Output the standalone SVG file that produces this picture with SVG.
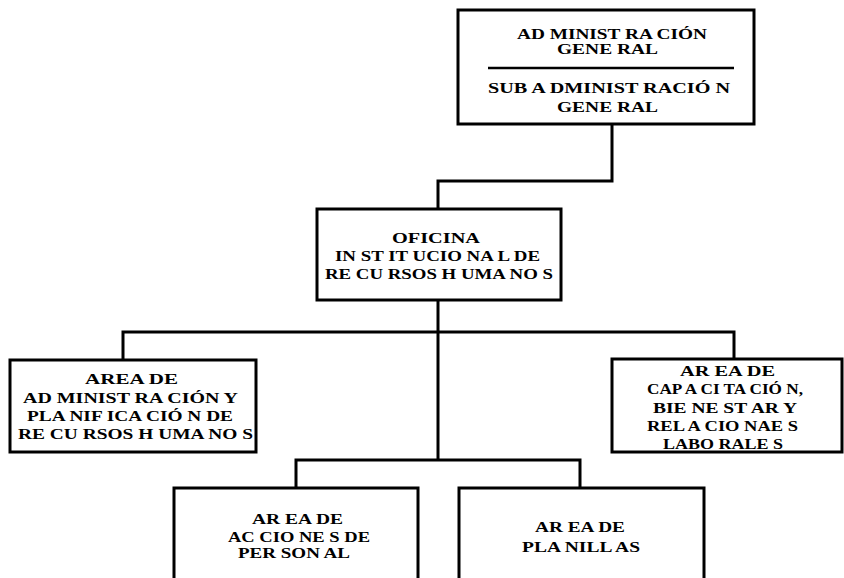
<svg xmlns="http://www.w3.org/2000/svg" width="844" height="578" viewBox="0 0 844 578">
<style>
.box{fill:#fff;stroke:#000;stroke-width:3}
.ln{fill:none;stroke:#000;stroke-width:3}
text{font-family:"Liberation Serif","Times New Roman",serif;font-weight:bold;font-size:14px;fill:#000}
</style>
<rect width="844" height="578" fill="#fff"/>
<g id="connectors">
<polyline class="ln" points="612,124 612,181 438,181 438,209"/>
<line class="ln" x1="438" y1="300" x2="438" y2="460"/>
<polyline class="ln" points="123,360 123,332 734,332 734,359"/>
<polyline class="ln" points="296,488 296,460 580,460 580,488"/>
</g>
<g id="n1">
<rect class="box" x="458" y="10" width="296" height="114"/>
<text x="517" y="39" textLength="190" lengthAdjust="spacingAndGlyphs">AD MINIST RA CIÓN</text>
<text x="557" y="54" textLength="101" lengthAdjust="spacingAndGlyphs">GENE RAL</text>
<line x1="488" y1="68" x2="734" y2="68" stroke="#000" stroke-width="2.5"/>
<text x="488" y="93" textLength="242" lengthAdjust="spacingAndGlyphs">SUB A DMINIST RACIÓ N</text>
<text x="557" y="112" textLength="101" lengthAdjust="spacingAndGlyphs">GENE RAL</text>
</g>
<g id="n2">
<rect class="box" x="317" y="209" width="244" height="91"/>
<text x="392" y="243" textLength="88" lengthAdjust="spacingAndGlyphs">OFICINA</text>
<text x="335" y="261" textLength="205" lengthAdjust="spacingAndGlyphs">IN ST IT UCIO NA L DE</text>
<text x="325" y="279" textLength="228" lengthAdjust="spacingAndGlyphs">RE CU RSOS H UMA NO S</text>
</g>
<g id="n3">
<rect class="box" x="10" y="360" width="246" height="92"/>
<text x="85" y="384" textLength="93" lengthAdjust="spacingAndGlyphs">AREA DE</text>
<text x="23" y="403" textLength="215" lengthAdjust="spacingAndGlyphs">AD MINIST RA CIÓN Y</text>
<text x="27" y="421" textLength="206" lengthAdjust="spacingAndGlyphs">PLA NIF ICA CIÓ N DE</text>
<text x="18" y="439" textLength="235" lengthAdjust="spacingAndGlyphs">RE CU RSOS H UMA NO S</text>
</g>
<g id="n4">
<rect class="box" x="612" y="359" width="230" height="93"/>
<text x="680" y="376" textLength="95" lengthAdjust="spacingAndGlyphs">AR EA DE</text>
<text x="647" y="394" textLength="156" lengthAdjust="spacingAndGlyphs">CAP A CI TA CIÓ N,</text>
<text x="653" y="413" textLength="144" lengthAdjust="spacingAndGlyphs">BIE NE ST AR Y</text>
<text x="647" y="431" textLength="151" lengthAdjust="spacingAndGlyphs">REL A CIO NAE S</text>
<text x="663" y="449" textLength="120" lengthAdjust="spacingAndGlyphs">LABO RALE S</text>
</g>
<g id="n5">
<rect class="box" x="174" y="488" width="244" height="100"/>
<text x="252" y="524" textLength="91" lengthAdjust="spacingAndGlyphs">AR EA DE</text>
<text x="228" y="542" textLength="142" lengthAdjust="spacingAndGlyphs">AC CIO NE S DE</text>
<text x="238" y="558" textLength="112" lengthAdjust="spacingAndGlyphs">PER SON AL</text>
</g>
<g id="n6">
<rect class="box" x="459" y="488" width="245" height="100"/>
<text x="535" y="532" textLength="90" lengthAdjust="spacingAndGlyphs">AR EA DE</text>
<text x="522" y="552" textLength="118" lengthAdjust="spacingAndGlyphs">PLA NILL AS</text>
</g>
</svg>
